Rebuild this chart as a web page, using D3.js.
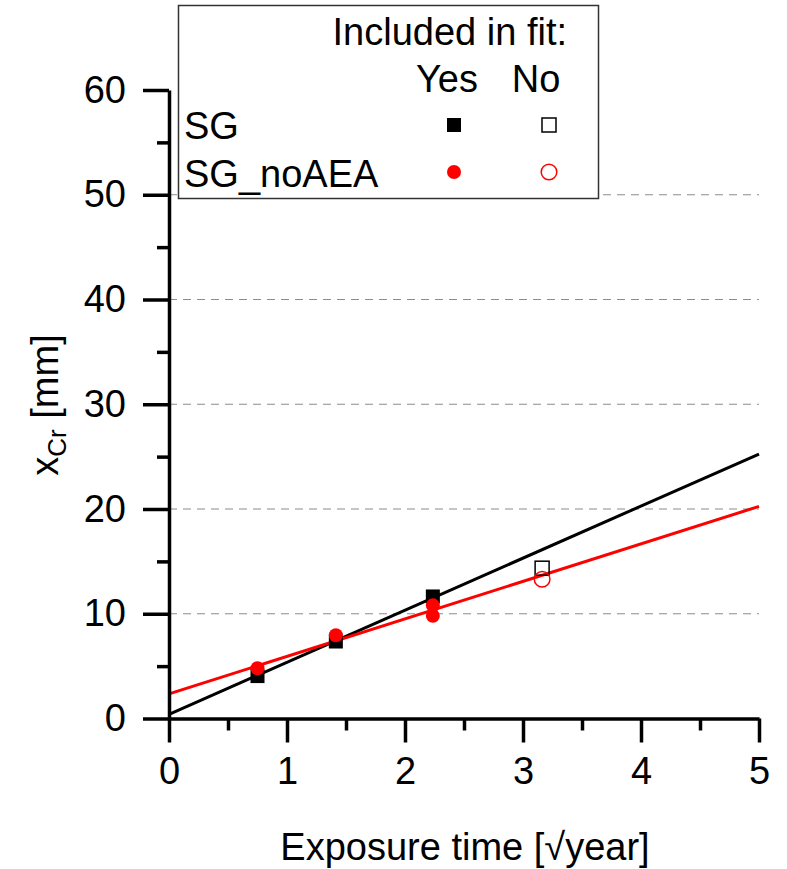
<!DOCTYPE html>
<html>
<head>
<meta charset="utf-8">
<script src="https://cdn.jsdelivr.net/npm/d3@7"></script>
<style>
  body { margin: 0; background: #fff; }
  text { font-family: "Liberation Sans", Arial, sans-serif; fill: #000; }
</style>
</head>
<body>
<svg id="chart" width="787" height="869"></svg>
<script>
// Penetration depth x_Cr versus square root of exposure time
const sgTime = [0.75, 1.414, 2.236];
const sgDepth = [4.05, 7.35, 11.65];
const sgExclTime = [3.162];
const sgExclDepth = [14.35];

const noAeaTime = [0.75, 1.414, 2.236, 2.236];
const noAeaDepth = [4.8, 7.95, 10.8, 9.8];
const noAeaExclTime = [3.162];
const noAeaExclDepth = [13.3];

// Linear fits, given as depth at t = 0 and t = 5
const fitTime = [0, 5];
const sgFitDepth = [0.4, 25.25];
const noAeaFitDepth = [2.35, 20.25];

const xTicks = [0, 1, 2, 3, 4, 5];
const xMinorTicks = [0.5, 1.5, 2.5, 3.5, 4.5];
const yTicks = [0, 10, 20, 30, 40, 50, 60];
const yMinorTicks = [5, 15, 25, 35, 45, 55];
const gridValues = [10, 20, 30, 40, 50];

const RED = "#ff0000";
const FONT = 38;

const svg = d3.select("#chart");

const x = d3.scaleLinear().domain([0, 5]).range([169, 759]);
const y = d3.scaleLinear().domain([0, 60]).range([718.5, 90]);

// dashed horizontal gridlines
svg.append("g").selectAll("line").data(gridValues).join("line")
  .attr("x1", x(0)).attr("x2", x(5))
  .attr("y1", d => y(d)).attr("y2", d => y(d))
  .attr("stroke", "#8c8c8c").attr("stroke-width", 1.2)
  .attr("stroke-dasharray", "8,6");

// fit lines
const line = d3.line().x(d => x(d[0])).y(d => y(d[1]));
svg.append("path").datum(d3.zip(fitTime, sgFitDepth))
  .attr("d", line).attr("fill", "none").attr("stroke", "#000").attr("stroke-width", 3);
svg.append("path").datum(d3.zip(fitTime, noAeaFitDepth))
  .attr("d", line).attr("fill", "none").attr("stroke", RED).attr("stroke-width", 3);

// markers
const SQ = 14;
function squares(times, depths, filled) {
  svg.append("g").selectAll("rect").data(d3.zip(times, depths)).join("rect")
    .attr("x", d => x(d[0]) - SQ / 2).attr("y", d => y(d[1]) - SQ / 2)
    .attr("width", SQ).attr("height", SQ)
    .attr("fill", filled ? "#000" : "none")
    .attr("stroke", "#000").attr("stroke-width", filled ? 0 : 1.5);
}
function circles(times, depths, filled) {
  svg.append("g").selectAll("circle").data(d3.zip(times, depths)).join("circle")
    .attr("cx", d => x(d[0])).attr("cy", d => y(d[1]))
    .attr("r", filled ? 7 : 7.8)
    .attr("fill", filled ? RED : "none")
    .attr("stroke", RED).attr("stroke-width", filled ? 0 : 1.5);
}
squares(sgTime, sgDepth, true);
squares(sgExclTime, sgExclDepth, false);
circles(noAeaTime, noAeaDepth, true);
circles(noAeaExclTime, noAeaExclDepth, false);

// x axis
const xAxis = svg.append("g").attr("transform", `translate(0,${y(0)})`);
xAxis.call(d3.axisBottom(x).tickValues(xTicks).tickFormat(d3.format("d"))
  .tickSize(24).tickSizeOuter(0).tickPadding(15));
xAxis.append("g").call(d3.axisBottom(x).tickValues(xMinorTicks).tickSize(12).tickFormat(""))
  .select(".domain").remove();
xAxis.selectAll("text").attr("font-size", FONT).attr("font-family", null);
xAxis.selectAll(".domain, line").attr("stroke", "#000").attr("stroke-width", 3.5);

// y axis
const yAxis = svg.append("g").attr("transform", `translate(${x(0)},0)`);
yAxis.call(d3.axisLeft(y).tickValues(yTicks).tickFormat(d3.format("d"))
  .tickSize(26).tickSizeOuter(0).tickPadding(17));
yAxis.append("g").call(d3.axisLeft(y).tickValues(yMinorTicks).tickSize(12).tickFormat(""))
  .select(".domain").remove();
yAxis.selectAll("text").attr("font-size", FONT).attr("font-family", null);
yAxis.selectAll(".domain, line").attr("stroke", "#000").attr("stroke-width", 3.5);

// axis titles
svg.append("text")
  .attr("x", 465).attr("y", 860).attr("text-anchor", "middle")
  .attr("font-size", FONT).text("Exposure time [\u221Ayear]");

const yTitle = svg.append("text")
  .attr("transform", "translate(58,405) rotate(-90)")
  .attr("text-anchor", "middle").attr("font-size", FONT);
yTitle.append("tspan").text("x");
yTitle.append("tspan").attr("font-size", 26).attr("dy", 8).text("Cr");
yTitle.append("tspan").attr("dy", -8).text(" [mm]");

// legend
const legend = svg.append("g");
legend.append("rect")
  .attr("x", 178.5).attr("y", 5.5).attr("width", 420).attr("height", 193)
  .attr("fill", "#fff").attr("stroke", "#333").attr("stroke-width", 1.5);
legend.append("text").attr("x", 567).attr("y", 45).attr("text-anchor", "end")
  .attr("font-size", FONT).text("Included in fit:");
legend.append("text").attr("x", 447).attr("y", 92).attr("text-anchor", "middle")
  .attr("font-size", FONT).text("Yes");
legend.append("text").attr("x", 536).attr("y", 92).attr("text-anchor", "middle")
  .attr("font-size", FONT).text("No");
legend.append("text").attr("x", 184).attr("y", 139)
  .attr("font-size", FONT).text("SG");
legend.append("text").attr("x", 184).attr("y", 187)
  .attr("font-size", FONT).text("SG_noAEA");
legend.append("rect").attr("x", 447).attr("y", 118).attr("width", 14).attr("height", 14)
  .attr("fill", "#000");
legend.append("rect").attr("x", 542).attr("y", 118).attr("width", 14).attr("height", 14)
  .attr("fill", "none").attr("stroke", "#000").attr("stroke-width", 1.5);
legend.append("circle").attr("cx", 454).attr("cy", 172).attr("r", 7).attr("fill", RED);
legend.append("circle").attr("cx", 549).attr("cy", 172).attr("r", 7.8)
  .attr("fill", "none").attr("stroke", RED).attr("stroke-width", 1.5);
</script>
</body>
</html>
